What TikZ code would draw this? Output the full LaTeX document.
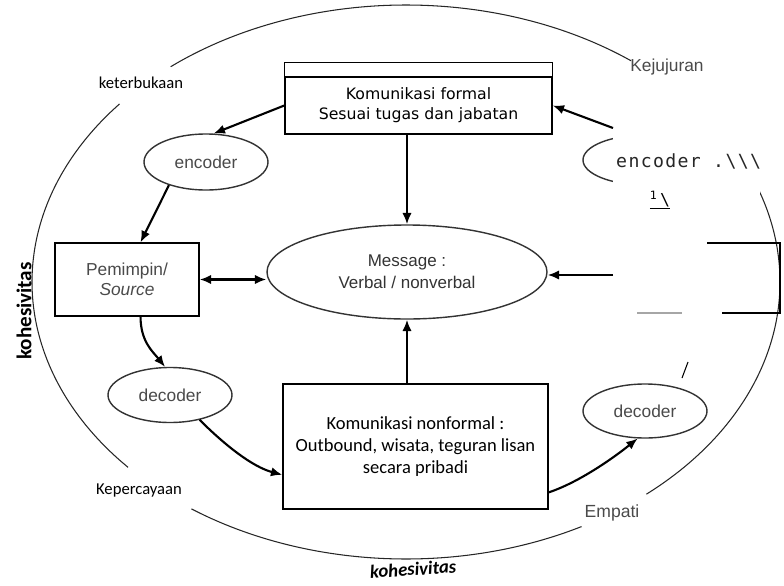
\documentclass[tikz,border=0pt]{standalone}
\usepackage{fontspec}
\setmainfont{Liberation Sans}
\newfontfamily\verdfont{DejaVu Sans}
\newfontfamily\calfont{Carlito}
\newfontfamily\monofont{DejaVu Sans Mono}
\newfontfamily\monospread{DejaVu Sans Mono}[LetterSpace=7.5]
\usetikzlibrary{arrows.meta,shapes.geometric,positioning}

\newlength\pxu
\setlength\pxu{0.03cm}
\definecolor{scangray}{HTML}{4A4A4A}

\tikzset{
  rim/.style={line width=0.9pt, black!85},
  boxline/.style={line width=1.2pt},
  box/.style={draw, boxline, rectangle, inner sep=0pt, align=center},
  bubble/.style={draw=black!80, line width=1.2pt, ellipse, inner sep=0pt,
                 align=center, text=scangray,
                 font=\fontsize{14.8}{18.8}\selectfont},
  arr/.style={line width=1.8pt, -{Latex[length=3.4mm,width=2.8mm]}},
  arrboth/.style={line width=1.8pt, {Latex[length=3.4mm,width=2.8mm]}-{Latex[length=3.4mm,width=2.8mm]}},
  lbl/.style={inner sep=1pt, font=\calfont\fontsize{14.2}{16}\selectfont},
  kohesi/.style={inner sep=0pt, font=\calfont\bfseries\fontsize{17}{19}\selectfont}
}

\begin{document}
\begin{tikzpicture}[x=0.03cm, y=-0.03cm]
  \useasboundingbox (0,0) rectangle (784,585);

  %% outer rim, broken at the four values
  \foreach \a/\b in {53/129, 140/222, 235/298, 310/379.5} {
    \draw[rim] plot[domain=\a:\b, samples=40, smooth, variable=\t]
        ({406+374*cos(\t)}, {282-277*sin(\t)}); }

  \node[lbl] (keter) at (141,83) {keterbukaan};
  \node[lbl, font=\fontsize{14.8}{16}\selectfont, text=scangray] (jujur) at (667,67) {Kejujuran};
  \node[lbl] (percaya) at (139,490) {Kepercayaan};
  \node[lbl, font=\fontsize{15}{16}\selectfont, text=scangray] (empati) at (612,513) {Empati};
  \node[kohesi, rotate=90, font=\calfont\bfseries\fontsize{18}{19}\selectfont] (kohL) at (24,311) {kohesivitas};
  \node[kohesi, rotate=4, font=\calfont\bfseries\itshape\fontsize{16}{18}\selectfont] (kohB) at (413,569) {kohesivitas};

  %% boxes
  \node[box, minimum width=267\pxu, minimum height=57\pxu,
        font=\verdfont\fontsize{13.4}{17}\selectfont] (formal) at (418.5,105.5)
        {Komunikasi formal\\Sesuai tugas dan jabatan};
  \draw[boxline] (formal.north west) -- ++(0,-14) -| (formal.north east);

  \node[box, minimum width=144\pxu, minimum height=73\pxu, text=scangray,
        font=\fontsize{14.8}{17}\selectfont] (pem) at (127,279.5)
        {Pemimpin/\\\textit{Source}};

  \node[box, minimum width=265\pxu, minimum height=125\pxu,
        font=\calfont\fontsize{15.8}{18.8}\selectfont] (nf) at (415.5,446.5)
        {Komunikasi nonformal :\\Outbound, wisata, teguran lisan\\secara pribadi};

  %% ellipses
  \node[bubble, minimum width=280\pxu, minimum height=94\pxu, text=black!80,
        font=\fontsize{14.5}{18.8}\selectfont] (msg) at (407,272)
        {Message :\\Verbal / nonverbal};
  \node[bubble, minimum width=124\pxu, minimum height=56\pxu] (enc1) at (206,162) {encoder};
  \node[bubble, minimum width=124\pxu, minimum height=55\pxu] (dec1) at (170,395) {decoder};
  \node[bubble, minimum width=124\pxu, minimum height=54\pxu] (dec2) at (645,411) {decoder};
  \node[bubble, minimum width=124\pxu, minimum height=50\pxu] (enc2) at (645,160) {};

  %% torn part on the right
  \node[anchor=north west, fill=white, inner sep=0pt,
        minimum width=147\pxu, minimum height=67\pxu] (tear) at (613,128) {};
  \node[anchor=west, inner sep=0pt, text=black!85,
        font=\monospread\fontsize{15.5}{18}\selectfont] (enctxt) at ([xshift=3\pxu]tear.west)
        {encoder .\textbackslash\textbackslash\textbackslash};
  \node[inner sep=0pt, font=\monofont\fontsize{14}{16}\selectfont] (tick) at (660,200)
        {\underline{\textsuperscript{1}\,\textbackslash}};
  \draw[boxline] (707,243) -- (780,243) -- (780,313) -- (722,313);
  \draw[boxline, black!35] (637,313) -- (682,313);
  \coordinate (rbin) at (613,275);
  \draw[line width=0.9pt] (688,362) -- (682,378);

  %% arrows
  \draw[arr] (formal.west) -- (enc1.75);
  \draw[arr] (enc1.212) -- (pem.70);
  \draw[arrboth] (pem.east) -- (pem.east -| msg.west);
  \draw[arr] (formal.south -| msg.north) -- (msg.north);
  \draw[arr] (pem.290) .. controls +(0,25) and +(-12,-15) .. (dec1.100);
  \draw[arr] (dec1.-40) .. controls +(25,25) and +(-30,-8) .. (nf.192);
  \draw[arr] (nf.north -| msg.south) -- (msg.south);
  \draw[arr] (nf.-19) .. controls +(30,-10) and +(-25,20) .. (dec2.255);
  \draw[arr] (rbin) -- (rbin -| msg.east);
  \draw[arr] (tear.north west) -- (formal.east);

\end{tikzpicture}
\end{document}
